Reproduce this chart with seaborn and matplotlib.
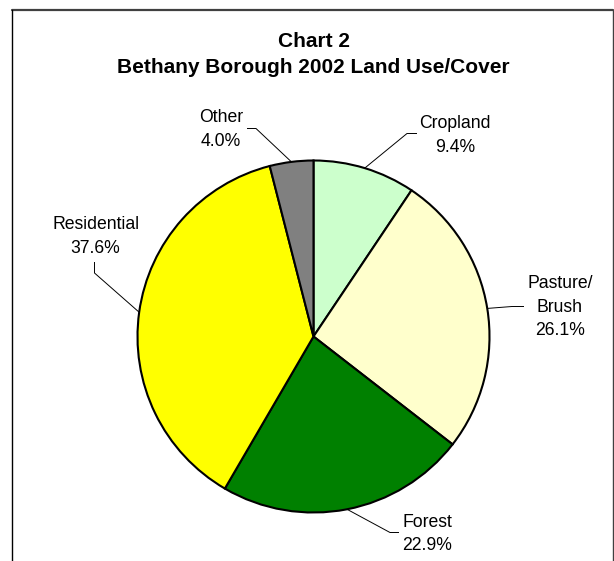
import numpy as np
import seaborn as sns
import matplotlib.pyplot as plt

# data
categories = ["Cropland", "Pasture/\nBrush", "Forest", "Residential", "Other"]
shares = [9.4, 26.1, 22.9, 37.6, 4.0]
slice_colors = ["#CCFFCC", "#FFFFCC", "#008000", "#FFFF00", "#808080"]
title_lines = ["Chart 2", "Bethany Borough 2002 Land Use/Cover"]

W, H = 614, 561

# label layout in pixels from top-left: text centre x, first baseline y,
# knee of the leader line, end of the leader line (next to the text)
label_layout = {
    "Cropland": dict(x=455, y=128, knee=(407, 133.5), end=(417, 133.5)),
    "Pasture/\nBrush": dict(x=560, y=288, knee=(512, 306.5), end=(524, 306.5)),
    "Forest": dict(x=427, y=527, knee=(390, 532.5), end=(399, 532.5)),
    "Residential": dict(x=95.5, y=229, knee=(94.5, 273), end=(94.5, 262)),
    "Other": dict(x=221, y=122, knee=(256, 128.5), end=(247, 128.5)),
}
line_gap = 23.5


def fy(y):
    # pixel-from-top -> data y
    return H - y


def main():
    sns.set_theme(style="white")
    plt.rcParams["font.family"] = ["Liberation Sans", "DejaVu Sans"]
    plt.rcParams["text.color"] = "black"

    fig = plt.figure(figsize=(W / 100, H / 100), dpi=100)
    ax = fig.add_axes([0, 0, 1, 1])

    cx, cy, r = 313.5, fy(336.5), 176
    wedges, _ = ax.pie(shares, colors=slice_colors, startangle=90, counterclock=False,
                       center=(cx, cy), radius=r,
                       wedgeprops=dict(edgecolor="black", linewidth=1.5))
    ax.set_xlim(0, W)
    ax.set_ylim(0, H)
    ax.set_aspect("equal")
    ax.axis("off")

    # labels with leader lines
    for w, name, val in zip(wedges, categories, shares):
        lay = label_layout[name]
        mid = np.deg2rad((w.theta1 + w.theta2) / 2)
        px, py = cx + r * np.cos(mid), cy + r * np.sin(mid)
        kx, ky = lay["knee"]
        ex, ey = lay["end"]
        ax.plot([px, kx, ex], [py, fy(ky), fy(ey)], color="black", lw=0.7,
                solid_capstyle="butt", zorder=3)
        lines = name.split("\n") + [f"{val:.1f}%"]
        for i, t in enumerate(lines):
            ax.text(lay["x"], fy(lay["y"] + i * line_gap), t, ha="center",
                    va="baseline", fontsize=12.7, color="black")

    # title
    ax.text(313.5, fy(46.7), title_lines[0], ha="center", va="baseline",
            fontsize=15, fontweight="bold", color="black")
    ax.text(313.5, fy(73.3), title_lines[1], ha="center", va="baseline",
            fontsize=15, fontweight="bold", color="black")

    # chart area border
    ax.plot([11.5, 612.5], [fy(10), fy(10)], color="#404040", lw=1.6, clip_on=False)
    ax.plot([11.5, 11.5], [fy(10), fy(565)], color="black", lw=1.0, clip_on=False)
    ax.plot([612.5, 612.5], [fy(10), fy(565)], color="#404040", lw=1.0, clip_on=False)

    fig.savefig("out.png", dpi=100, facecolor="white")
    plt.close(fig)


if __name__ == "__main__":
    main()
